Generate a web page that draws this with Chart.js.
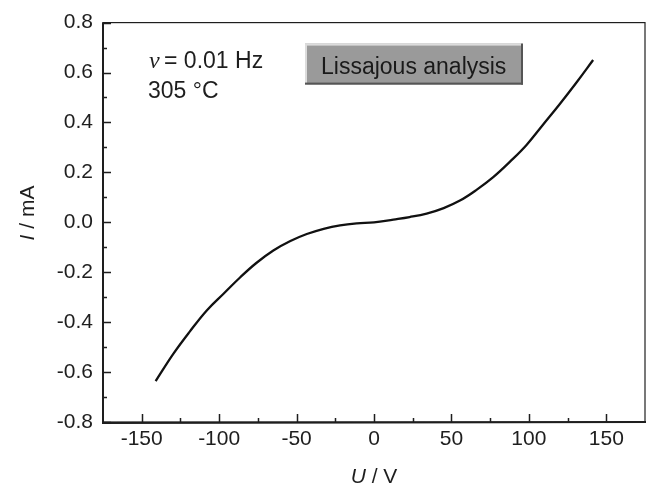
<!DOCTYPE html>
<html>
<head>
<meta charset="utf-8">
<script src="https://cdn.jsdelivr.net/npm/chart.js@4/dist/chart.umd.min.js"></script>
<style>
html,body{margin:0;padding:0;background:#fff;}
#wrap{width:649px;height:486px;}
</style>
</head>
<body>
<div id="wrap"><canvas id="c" width="649" height="486"></canvas></div>
<script>
// Voltage U (V) and current I (mA)
const U = [-141, -129.5, -119, -108, -97, -86.5, -76, -65, -54, -43.4, -32.5, -21.9, -11, 0, 12.5, 23, 34, 45, 55.5, 66, 77, 88, 98.5, 109, 120, 131, 141.5];
const I = [-0.636, -0.526, -0.438, -0.353, -0.285, -0.221, -0.163, -0.113, -0.075, -0.047, -0.026, -0.012, -0.004, 0.0, 0.011, 0.021, 0.035, 0.057, 0.087, 0.129, 0.181, 0.244, 0.31, 0.39, 0.474, 0.562, 0.65];
const xTicks = [-150, -100, -50, 0, 50, 100, 150];
const xMinor = [-125, -75, -25, 25, 75, 125];
const yTicks = [-0.8, -0.6, -0.4, -0.2, 0.0, 0.2, 0.4, 0.6, 0.8];
const yMinor = [-0.7, -0.5, -0.3, -0.1, 0.1, 0.3, 0.5, 0.7];
const xLabel = ["U", " / V"];
const yLabel = ["I", " / mA"];
const noteFreq = ["ν", " = 0.01 Hz"];
const noteTemp = "305 °C";
const boxText = "Lissajous analysis";

const SANS = "'Liberation Sans', Arial, sans-serif";
const INK = "#1e1e1e";

const decor = {
  id: 'decor',
  afterDraw(chart) {
    const ctx = chart.ctx;
    const ca = chart.chartArea;
    const xs = chart.scales.x, ys = chart.scales.y;
    ctx.save();
    // frame
    ctx.strokeStyle = INK;
    ctx.lineWidth = 1.2;
    ctx.strokeRect(ca.left, ca.top, ca.right - ca.left, ca.bottom - ca.top);
    ctx.lineWidth = 2;
    ctx.beginPath();
    ctx.moveTo(ca.left, ca.top); ctx.lineTo(ca.left, ca.bottom + 1); ctx.lineTo(ca.right + 1, ca.bottom);
    ctx.stroke();
    // ticks (inward)
    ctx.lineWidth = 1.5;
    ctx.beginPath();
    xTicks.forEach(v => { const p = Math.round(xs.getPixelForValue(v)) + 0.5; ctx.moveTo(p, ca.bottom); ctx.lineTo(p, ca.bottom - 8); });
    xMinor.forEach(v => { const p = Math.round(xs.getPixelForValue(v)) + 0.5; ctx.moveTo(p, ca.bottom); ctx.lineTo(p, ca.bottom - 4); });
    yTicks.forEach(v => { const p = Math.round(ys.getPixelForValue(v)) + 0.5; ctx.moveTo(ca.left, p); ctx.lineTo(ca.left + 8, p); });
    yMinor.forEach(v => { const p = Math.round(ys.getPixelForValue(v)) + 0.5; ctx.moveTo(ca.left, p); ctx.lineTo(ca.left + 4, p); });
    ctx.stroke();

    ctx.fillStyle = INK;
    ctx.textBaseline = 'alphabetic';
    // x axis title
    const fs = 21;
    ctx.font = `italic ${fs}px ${SANS}`;
    const w0 = ctx.measureText(xLabel[0]).width;
    ctx.font = `${fs}px ${SANS}`;
    const w1 = ctx.measureText(xLabel[1]).width;
    const cx = (ca.left + ca.right) / 2;
    let x0 = cx - (w0 + w1) / 2;
    const by = 483;
    ctx.font = `italic ${fs}px ${SANS}`; ctx.fillText(xLabel[0], x0, by);
    ctx.font = `${fs}px ${SANS}`; ctx.fillText(xLabel[1], x0 + w0, by);
    // y axis title
    ctx.save();
    ctx.translate(34, 213);
    ctx.rotate(-Math.PI / 2);
    ctx.font = `italic ${fs}px ${SANS}`;
    const v0 = ctx.measureText(yLabel[0]).width;
    ctx.font = `${fs}px ${SANS}`;
    const v1 = ctx.measureText(yLabel[1]).width;
    let y0 = -(v0 + v1) / 2;
    ctx.font = `italic ${fs}px ${SANS}`; ctx.fillText(yLabel[0], y0, 0);
    ctx.font = `${fs}px ${SANS}`; ctx.fillText(yLabel[1], y0 + v0, 0);
    ctx.restore();

    // notes
    ctx.font = `italic 24px 'Liberation Serif', serif`;
    const nx = ca.left + 46;
    ctx.fillText(noteFreq[0], nx, ca.top + 45);
    const nw = ctx.measureText(noteFreq[0]).width;
    ctx.font = `23px ${SANS}`;
    ctx.fillText(noteFreq[1], nx + nw - 2, ca.top + 45);
    ctx.fillText(noteTemp, ca.left + 45, ca.top + 75);

    // beveled box
    const bx = ca.left + 202, bY = ca.top + 21, bw = 218, bh = 41;
    ctx.fillStyle = '#9a9a9a';
    ctx.fillRect(bx, bY, bw, bh);
    ctx.fillStyle = '#dcdcdc';
    ctx.fillRect(bx, bY, bw, 2);
    ctx.fillRect(bx, bY, 2, bh);
    ctx.fillStyle = '#555';
    ctx.fillRect(bx, bY + bh - 2, bw, 2);
    ctx.fillRect(bx + bw - 2, bY, 2, bh);
    ctx.fillStyle = '#1a1a1a';
    ctx.font = `23px ${SANS}`;
    ctx.fillText(boxText, bx + 16, bY + 30);
    ctx.restore();
  }
};

new Chart(document.getElementById('c'), {
  type: 'line',
  data: {
    datasets: [{
      data: U.map((u, k) => ({ x: u, y: I[k] })),
      borderColor: '#111',
      borderWidth: 2.3,
      pointRadius: 0,
      fill: false,
      tension: 0.4
    }]
  },
  options: {
    responsive: false,
    devicePixelRatio: 1,
    animation: false,
    layout: { padding: { top: 22, right: 4, left: 0, bottom: 0 } },
    plugins: { legend: { display: false }, tooltip: { enabled: false } },
    scales: {
      x: {
        type: 'linear',
        min: -175, max: 175,
        afterBuildTicks: s => { s.ticks = xTicks.map(v => ({ value: v })); },
        afterFit: s => { s.height = 64; },
        grid: { display: false, drawTicks: false },
        border: { display: false },
        ticks: { font: { size: 21, family: SANS }, color: INK, padding: 5, maxRotation: 0, callback: v => String(v) }
      },
      y: {
        type: 'linear',
        min: -0.8, max: 0.8,
        afterBuildTicks: s => { s.ticks = yTicks.map(v => ({ value: v })); },
        afterFit: s => { s.width = 103; },
        grid: { display: false, drawTicks: false },
        border: { display: false },
        ticks: { font: { size: 21, family: SANS }, color: INK, padding: 10, callback: v => Number(v).toFixed(1) }
      }
    }
  },
  plugins: [decor]
});
</script>
</body>
</html>
